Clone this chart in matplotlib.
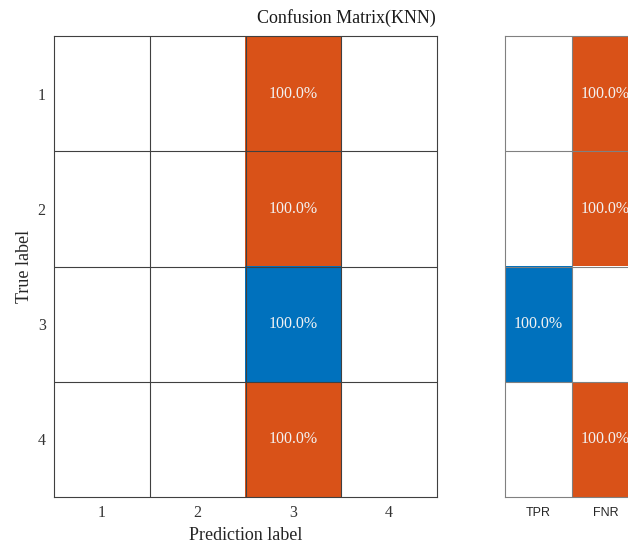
import numpy as np
import matplotlib.pyplot as plt
from matplotlib.colors import to_rgb

# confusion matrix counts (rows: true label, cols: predicted label)
class_labels = ['1', '2', '3', '4']
counts = [
    [0, 0, 1, 0],
    [0, 0, 1, 0],
    [0, 0, 1, 0],
    [0, 0, 1, 0],
]
summary_labels = ['TPR', 'FNR']

BLUE = '#0072BD'
ORANGE = '#D95319'
SERIF = ['Liberation Serif', 'DejaVu Serif']


def shade(frac, base):
    """Blend white -> base colour by fraction."""
    c = np.array(to_rgb(base))
    return tuple(1 - frac * (1 - c))


cm = np.array(counts, dtype=float)
row_tot = cm.sum(axis=1, keepdims=True)
frac = np.divide(cm, row_tot, out=np.zeros_like(cm), where=row_tot > 0)
n = len(class_labels)

tpr = np.diag(frac)
fnr = 1 - tpr
summary = np.column_stack([tpr, fnr])

fig = plt.figure(figsize=(6.28, 5.47), dpi=100)
W, H = 628, 547
ax = fig.add_axes([54 / W, (H - 497) / H, 383 / W, 461 / H])
ax2 = fig.add_axes([505 / W, (H - 497) / H, 134 / W, 461 / H])

# main matrix
img = np.ones((n, n, 3))
for i in range(n):
    for j in range(n):
        if frac[i, j] > 0:
            img[i, j] = shade(frac[i, j], BLUE if i == j else ORANGE)
            ax.text(j, i, f'{frac[i, j] * 100:.1f}%', ha='center', va='center',
                    color='#f2f2f2', fontsize=11.5, family=SERIF)
ax.imshow(img, aspect='auto', interpolation='nearest')
for k in range(1, n):
    ax.axhline(k - 0.5, color='#404040', lw=0.8)
    ax.axvline(k - 0.5, color='#404040', lw=0.8)
for s in ax.spines.values():
    s.set_color('#404040')
    s.set_linewidth(0.8)
ax.set_xticks(range(n))
ax.set_xticklabels(class_labels, family=SERIF, fontsize=11.5, color='#333333')
ax.set_yticks(range(n))
ax.set_yticklabels(class_labels, family=SERIF, fontsize=11.5, color='#333333')
ax.tick_params(axis='x', length=0, pad=6)
ax.tick_params(axis='y', length=0, pad=6)
ax.set_xlabel('Prediction label', family=SERIF, fontsize=13, color='#262626')
ax.xaxis.set_label_coords(0.5, -0.065)
ax.set_ylabel('True label', family=SERIF, fontsize=13, color='#262626')
ax.yaxis.set_label_coords(-0.055, 0.5)
fig.text(346 / W, 1 - 18 / H, 'Confusion Matrix(KNN)', family=SERIF, fontsize=13,
         color='#1a1a1a', ha='center', va='center')

# row summary (TPR / FNR)
img2 = np.ones((n, 2, 3))
for i in range(n):
    for j in range(2):
        if summary[i, j] > 0:
            img2[i, j] = shade(summary[i, j], BLUE if j == 0 else ORANGE)
            ax2.text(j, i, f'{summary[i, j] * 100:.1f}%', ha='center', va='center',
                     color='#f2f2f2', fontsize=11.5, family=SERIF)
ax2.imshow(img2, aspect='auto', interpolation='nearest')
for k in range(1, n):
    ax2.axhline(k - 0.5, color='#808080', lw=0.8)
ax2.axvline(0.5, color='#808080', lw=0.8)
for s in ax2.spines.values():
    s.set_color('#808080')
    s.set_linewidth(0.8)
ax2.set_xticks(range(2))
ax2.set_xticklabels(summary_labels, family=['Liberation Sans', 'DejaVu Sans'],
                    fontsize=9, color='#262626')
ax2.set_yticks([])
ax2.tick_params(length=0, pad=7)

fig.savefig('out.png', dpi=100)
